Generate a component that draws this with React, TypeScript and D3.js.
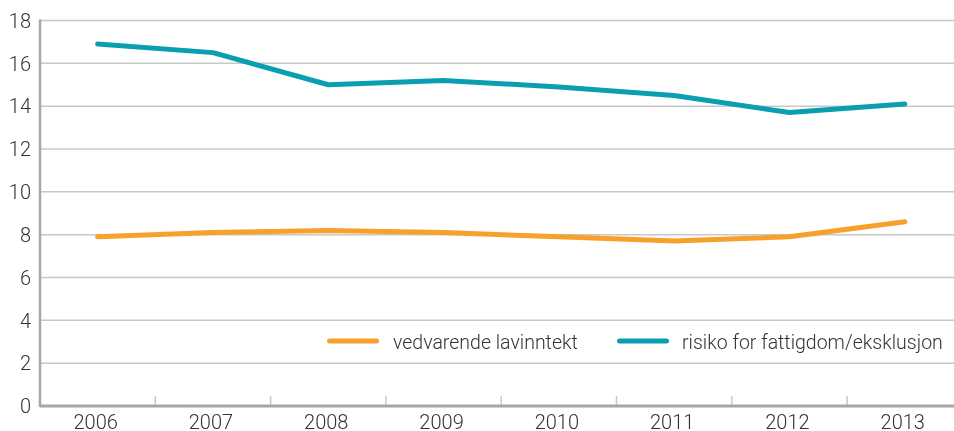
import { useEffect, useRef } from 'react';
import * as d3 from 'd3';

const years = ['2006', '2007', '2008', '2009', '2010', '2011', '2012', '2013'];
const lavinntekt = [7.9, 8.1, 8.2, 8.1, 7.9, 7.7, 7.9, 8.6];
const risiko = [16.9, 16.5, 15.0, 15.2, 14.9, 14.5, 13.7, 14.1];
const yTicks = [0, 2, 4, 6, 8, 10, 12, 14, 16, 18];

const seriesList = [
  { name: 'vedvarende lavinntekt', values: lavinntekt, color: '#f7a02b' },
  { name: 'risiko for fattigdom/eksklusjon', values: risiko, color: '#0a9fb0' },
];

const WIDTH = 954;
const HEIGHT = 431;
const FONT = 'Roboto, "DejaVu Sans", sans-serif';

const App = () => {
  const svgRef = useRef<SVGSVGElement>(null);

  useEffect(() => {
    const svg = d3.select(svgRef.current);
    svg.selectAll('*').remove();

    const MARGIN = { TOP: 20.5, LEFT: 40, BOTTOM: 406 };

    const xScale = d3.scaleBand()
      .domain(years)
      .range([MARGIN.LEFT, MARGIN.LEFT + 115.3 * years.length]);

    const yScale = d3.scaleLinear()
      .domain([0, 18])
      .range([MARGIN.BOTTOM, MARGIN.TOP]);

    // gridlines
    svg.append('g')
      .selectAll('line')
      .data(yTicks.filter(d => d > 0))
      .join('line')
      .attr('x1', MARGIN.LEFT)
      .attr('x2', WIDTH)
      .attr('y1', d => yScale(d))
      .attr('y2', d => yScale(d))
      .attr('stroke', '#c8c8c8')
      .attr('stroke-width', 1.5);

    // y labels
    svg.append('g')
      .selectAll('text')
      .data(yTicks)
      .join('text')
      .attr('x', 31)
      .attr('y', d => yScale(d))
      .attr('dy', '0.36em')
      .attr('text-anchor', 'end')
      .attr('font-family', FONT)
      .attr('font-weight', 300)
      .attr('font-size', 20)
      .attr('fill', '#333')
      .text(d => d);

    // x ticks between bands
    svg.append('g')
      .selectAll('line')
      .data(years.slice(1))
      .join('line')
      .attr('x1', d => xScale(d)!)
      .attr('x2', d => xScale(d)!)
      .attr('y1', MARGIN.BOTTOM)
      .attr('y2', MARGIN.BOTTOM - 10)
      .attr('stroke', '#c8c8c8')
      .attr('stroke-width', 1.5);

    // x labels
    svg.append('g')
      .selectAll('text')
      .data(years)
      .join('text')
      .attr('x', d => xScale(d)! + xScale.bandwidth() / 2 - 2)
      .attr('y', 429)
      .attr('text-anchor', 'middle')
      .attr('font-family', FONT)
      .attr('font-weight', 300)
      .attr('font-size', 20)
      .attr('fill', '#333')
      .text(d => d);

    // axes
    svg.append('line')
      .attr('x1', MARGIN.LEFT)
      .attr('x2', WIDTH)
      .attr('y1', MARGIN.BOTTOM)
      .attr('y2', MARGIN.BOTTOM)
      .attr('stroke', '#aaa6a2')
      .attr('stroke-width', 3);

    svg.append('line')
      .attr('x1', MARGIN.LEFT)
      .attr('x2', MARGIN.LEFT)
      .attr('y1', MARGIN.TOP - 1)
      .attr('y2', MARGIN.BOTTOM + 1)
      .attr('stroke', '#aaa6a2')
      .attr('stroke-width', 2.5);

    const line = d3.line<number>()
      .x((_, i) => xScale(years[i])! + xScale.bandwidth() / 2)
      .y(d => yScale(d));

    seriesList.forEach(s => {
      svg.append('path')
        .attr('d', line(s.values))
        .attr('fill', 'none')
        .attr('stroke', s.color)
        .attr('stroke-width', 5)
        .attr('stroke-linecap', 'round')
        .attr('stroke-linejoin', 'round');
    });

    // legend
    const legendItems = [
      { ...seriesList[0], x: 327, tx: 393 },
      { ...seriesList[1], x: 617, tx: 682 },
    ];
    const legend = svg.append('g');
    legendItems.forEach(item => {
      legend.append('line')
        .attr('x1', item.x + 2.5)
        .attr('x2', item.x + 49.5)
        .attr('y1', 341)
        .attr('y2', 341)
        .attr('stroke', item.color)
        .attr('stroke-width', 5)
        .attr('stroke-linecap', 'round');
      legend.append('text')
        .attr('x', item.tx)
        .attr('y', 342)
        .attr('dy', '0.35em')
        .attr('font-family', FONT)
        .attr('font-weight', 300)
        .attr('font-size', 19.5)
        .attr('fill', '#333')
        .text(item.name);
    });
  }, []);

  return (
    <div style={{ position: 'fixed', left: 0, top: 0, width: WIDTH, height: HEIGHT, overflow: 'hidden' }}>
      <svg ref={svgRef} width={WIDTH} height={HEIGHT} style={{ display: 'block' }} />
    </div>
  );
};

export default App;
